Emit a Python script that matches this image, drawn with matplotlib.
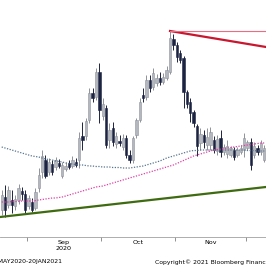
import matplotlib
matplotlib.use("Agg")
import matplotlib.pyplot as plt
import numpy as np
import pandas as pd

# daily candles, 20 Aug 2020 onwards (weekdays)
opens = [30, 43, 35, 40, 34, 40, 49, 46, 34, 38, 32, 52, 68, 80, 68, 76, 73, 77, 64, 71,
         77, 74, 78, 80, 104, 104, 120, 147, 143, 168, 124, 132, 100, 112, 96, 99, 93, 102, 85, 80,
         105, 120, 145, 143, 160, 153, 157, 162, 158, 162, 168, 201, 195, 187, 182, 148, 138, 128, 114, 97,
         105, 95, 95, 100, 89, 102, 88, 86, 85, 90, 85, 88, 90, 92, 98, 85, 92, 88, 80]
highs = [50, 55, 54, 50, 45, 56, 53, 50, 45, 42, 52, 72, 90, 85, 82, 80, 83, 81, 78, 78,
         80, 84, 82, 108, 118, 122, 152, 152, 172, 177, 142, 135, 117, 118, 108, 105, 106, 105, 90, 104,
         122, 142, 152, 165, 165, 172, 166, 168, 167, 174, 209, 206, 198, 190, 184, 150, 142, 130, 116, 112,
         110, 112, 113, 104, 105, 110, 96, 100, 94, 93, 93, 95, 107, 100, 102, 98, 95, 100, 95]
lows = [25, 23, 32, 27, 30, 36, 40, 27, 31, 28, 30, 48, 62, 62, 65, 65, 70, 72, 62, 69,
        71, 72, 73, 72, 90, 100, 117, 138, 140, 117, 120, 92, 92, 94, 92, 94, 90, 82, 77, 77,
        102, 118, 138, 140, 148, 150, 154, 155, 156, 160, 166, 190, 178, 177, 132, 132, 118, 113, 84, 90,
        92, 90, 90, 87, 85, 83, 85, 82, 83, 80, 83, 86, 83, 90, 70, 82, 85, 85, 78]
closes = [45, 30, 50, 35, 41, 52, 46, 30, 42, 30, 48, 65, 84, 64, 78, 68, 80, 74, 75, 74,
          73, 80, 75, 102, 100, 119, 147, 142, 168, 130, 136, 95, 110, 98, 104, 97, 102, 85, 80, 102,
          120, 138, 142, 160, 152, 167, 162, 158, 163, 170, 202, 195, 183, 180, 148, 136, 127, 117, 94, 106,
          98, 103, 108, 90, 101, 88, 93, 94, 92, 83, 90, 92, 102, 98, 75, 94, 88, 97, 92]

# moving averages
ma_blue = [93, 92, 91, 90, 89, 88, 87, 86, 85, 84, 83.5, 83, 82, 81, 80.5, 80, 79, 78.5, 78, 77,
           76.5, 76, 75.5, 75, 75, 74.5, 74, 74, 73.5, 73.5, 73, 73, 73, 72.5, 72.5, 72.5, 72, 72, 72, 72.5,
           73, 73.5, 74, 75, 76, 77, 78, 79, 80.5, 82, 83, 84, 85, 86, 87, 88, 89, 89.5, 89.5, 90,
           90, 90, 90, 90, 90, 90, 90, 90, 90, 90, 90, 90, 90, 89.5, 89.5, 89.5, 89, 89, 89]
ma_pink = [38, 38, 38, 38.5, 38.5, 38.5, 39, 39, 39, 39, 39.5, 40, 40.5, 41, 41.5, 42, 42, 42.5, 43, 44,
           45, 46, 47, 48, 49, 50, 51, 52, 53, 53.5, 54, 55, 56, 57, 58, 59, 60, 61, 62, 63,
           64, 65, 66, 67, 68, 69, 70, 71, 72, 73, 74, 75, 76.5, 78, 79.5, 81, 82.5, 84, 85, 86,
           87, 88, 89, 90, 90.5, 91, 91.5, 92, 92.5, 93, 93.5, 94, 94.5, 95, 95.5, 96, 96.5, 97, 97]

# trend lines (day index, level)
support_x = [-0.5, 78.5]
support_y = [23, 53]
resist_x = [50, 78.5]
resist_y = [209, 193]
top_level = 209

dates = pd.bdate_range("2020-08-20", periods=len(opens))
n = len(dates)
idx = np.arange(n)

up_col = "#b4b7bd"
up_edge = "#8e939b"
dn_col = "#1c2442"

fig = plt.figure(figsize=(2.66, 2.66), dpi=100)
ax = fig.add_axes([0, 29 / 266, 1, 237 / 266])

for i in idx:
    o, h, l, c = opens[i], highs[i], lows[i], closes[i]
    up = c >= o
    ax.vlines(i, l, h, color=up_edge if up else dn_col, lw=0.7, zorder=2)
    ax.bar(i, max(abs(c - o), 1.0), bottom=min(o, c), width=0.7,
           color=up_col if up else dn_col, edgecolor=up_edge if up else dn_col, lw=0.4, zorder=3)

ax.plot(idx, ma_blue, color="#587590", lw=0.9, ls=(0, (1, 1.2)), zorder=4)
ax.plot(idx, ma_pink, color="#e03fa6", lw=0.9, ls=(0, (1, 1.2)), zorder=4)

ax.plot(support_x, support_y, color="#3f6b10", lw=1.6, zorder=5)
ax.plot(resist_x, resist_y, color="#c8172f", lw=1.6, zorder=5)
ax.plot([resist_x[0], resist_x[1]], [top_level, top_level], color="#ec6d80", lw=0.8, zorder=5)

ax.set_xlim(-0.5, n - 0.5)
ax.set_ylim(3, 240)

# month boundaries and centered labels
months = pd.period_range("2020-09", "2020-12", freq="M")
bounds = [np.searchsorted(dates, m.start_time) - 0.5 for m in months]
ax.set_xticks(bounds)
ax.set_xticklabels([])
ax.tick_params(axis="x", which="major", direction="out", length=3, width=0.6, color="#808080")
mids = [(bounds[k] + bounds[k + 1]) / 2 for k in range(len(bounds) - 1)]
ax.set_xticks(mids, minor=True)
ax.set_xticklabels(["Sep\n2020", "Oct", "Nov"], minor=True, fontsize=4.6, linespacing=1.2)
ax.tick_params(axis="x", which="minor", length=0, pad=2)
ax.set_yticks([])

for s in ["top", "left", "right"]:
    ax.spines[s].set_visible(False)
ax.spines["bottom"].set_color("#a0a0a0")
ax.spines["bottom"].set_linewidth(0.6)

fig.text(63 / 266, 4 / 266, "20MAY2020-20JAN2021", ha="right", va="center", fontsize=4.4)
fig.text(155 / 266, 4 / 266, "Copyright\u00a9 2021 Bloomberg Finance L.P.", ha="left", va="center", fontsize=4.4)

fig.savefig("out.png", dpi=100)
